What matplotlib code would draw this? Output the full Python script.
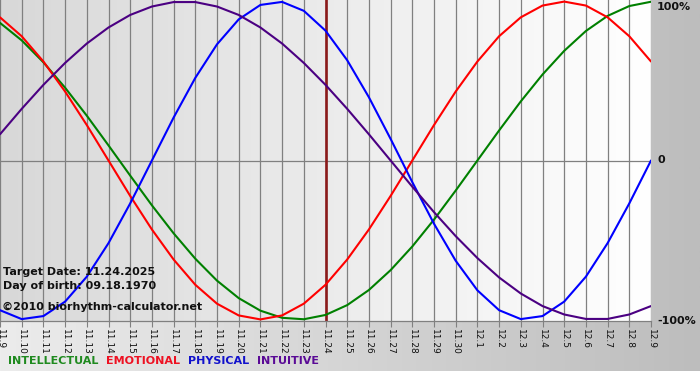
import matplotlib
matplotlib.use("Agg")
import matplotlib.pyplot as plt
import numpy as np
from matplotlib.colors import LinearSegmentedColormap

# ---- data ----
dates = ["11.9", "11.10", "11.11", "11.12", "11.13", "11.14", "11.15", "11.16", "11.17",
         "11.18", "11.19", "11.20", "11.21", "11.22", "11.23", "11.24", "11.25", "11.26",
         "11.27", "11.28", "11.29", "11.30", "12.1", "12.2", "12.3", "12.4", "12.5",
         "12.6", "12.7", "12.8", "12.9"]

intellectual = [0.866, 0.756, 0.618, 0.458, 0.282, 0.095, -0.095, -0.282, -0.458, -0.618,
                -0.756, -0.866, -0.945, -0.990, -0.999, -0.972, -0.910, -0.815, -0.690,
                -0.541, -0.372, -0.189, 0.0, 0.189, 0.372, 0.541, 0.690, 0.815, 0.910,
                0.972, 0.999]
emotional = [0.901, 0.782, 0.623, 0.434, 0.223, 0.0, -0.223, -0.434, -0.623, -0.782,
             -0.901, -0.975, -1.0, -0.975, -0.901, -0.782, -0.623, -0.434, -0.223, 0.0,
             0.223, 0.434, 0.623, 0.782, 0.901, 0.975, 1.0, 0.975, 0.901, 0.782, 0.623]
physical = [-0.942, -0.998, -0.979, -0.888, -0.731, -0.520, -0.270, 0.0, 0.270, 0.520,
            0.731, 0.888, 0.979, 0.998, 0.942, 0.817, 0.631, 0.398, 0.136, -0.136, -0.398,
            -0.631, -0.817, -0.942, -0.998, -0.979, -0.888, -0.731, -0.520, -0.270, 0.0]
intuitive = [0.165, 0.325, 0.476, 0.614, 0.736, 0.837, 0.916, 0.969, 0.997, 0.997, 0.969,
             0.916, 0.837, 0.736, 0.614, 0.476, 0.325, 0.165, 0.0, -0.165, -0.325, -0.476,
             -0.614, -0.736, -0.837, -0.916, -0.969, -0.997, -0.997, -0.969, -0.916]

series_names = ["INTELLECTUAL", "EMOTIONAL", "PHYSICAL", "INTUITIVE"]
series_values = [intellectual, emotional, physical, intuitive]
series_colors = ["#008000", "#ff0000", "#0000ff", "#4b0082"]
legend_colors = ["#1f8a1f", "#ee1122", "#1111cc", "#5a0a96"]

target_index = dates.index("11.24")
target_text = "Target Date: 11.24.2025"
birth_text = "Day of birth: 09.18.1970"
copy_text = "\u00a92010 biorhythm-calculator.net"
right_labels = [(1.0, "100%"), (0.0, "0"), (-1.0, "-100%")]

W, H = 700, 380
fig = plt.figure(figsize=(W / 100, H / 100), dpi=100)
fig.patch.set_facecolor("white")

# figure background gradient
bg = fig.add_axes([0, 9 / H, 1, 1 - 9 / H])
bg.set_axis_off()
cm_bg = LinearSegmentedColormap.from_list("bg", ["#ececec", "#bdbdbd"])
bg.imshow(np.linspace(0, 1, 256)[None, :], aspect="auto", cmap=cm_bg,
          extent=[0, 1, 0, 1], zorder=0)
bg.set_xlim(0, 1)
bg.set_ylim(0, 1)

plot_w = 651
plot_h = 321
ax = fig.add_axes([0, 1 - plot_h / H, plot_w / W, plot_h / H])
x = np.arange(len(dates))
ax.set_xlim(0, len(dates) - 1)
ax.set_ylim(-1.01, 1.01)

cm_plot = LinearSegmentedColormap.from_list("pl", ["#d8d8d8", "#ffffff"])
ax.imshow(np.linspace(0, 1, 256)[None, :], aspect="auto", cmap=cm_plot,
          extent=[0, len(dates) - 1, -1.01, 1.01], zorder=0)

for xi in x:
    ax.axvline(xi, color="#808080", lw=0.9, zorder=1)
ax.axhline(0, color="#808080", lw=0.9, zorder=1)

ax.axvline(target_index, color="#8b1a1a", lw=1.9, zorder=2)

for vals, col in zip(series_values, series_colors):
    ax.plot(x, vals, color=col, lw=1.5, zorder=3, solid_joinstyle="round",
            solid_capstyle="round")

for s in ["top", "left", "right"]:
    ax.spines[s].set_visible(False)
ax.spines["bottom"].set_color("#808080")
ax.spines["bottom"].set_linewidth(0.9)

ax.set_xticks(x)
ax.set_xticklabels(dates, rotation=-90, fontsize=6.5, family="DejaVu Sans",
                   color="#111111")
ax.tick_params(axis="x", length=4, color="#808080", pad=1.5)
ax.set_yticks([])

# left annotations
for ypix, txt, xp in [(272, target_text, 3), (286, birth_text, 3), (307, copy_text, 2)]:
    fig.text(xp / W, 1 - ypix / H, txt, fontsize=8.0, fontweight="bold",
             va="center", ha="left", color="#111111")

# right labels
for val, lab in right_labels:
    ypix = 160.5 - val * 160.5
    if val > 0:
        ypix = 7
    fig.text(657 / W, 1 - ypix / H, lab, fontsize=8.0, fontweight="bold",
             va="center", ha="left", color="#111111")

# legend row
xpos = 8
for name, col in zip(series_names, legend_colors):
    t = fig.text(xpos / W, 1 - 361 / H, name, fontsize=8.0, fontweight="bold",
                 va="center", ha="left", color=col)
    fig.canvas.draw()
    bb = t.get_window_extent()
    xpos = bb.x1 + 8

fig.savefig("out.png", dpi=100)
